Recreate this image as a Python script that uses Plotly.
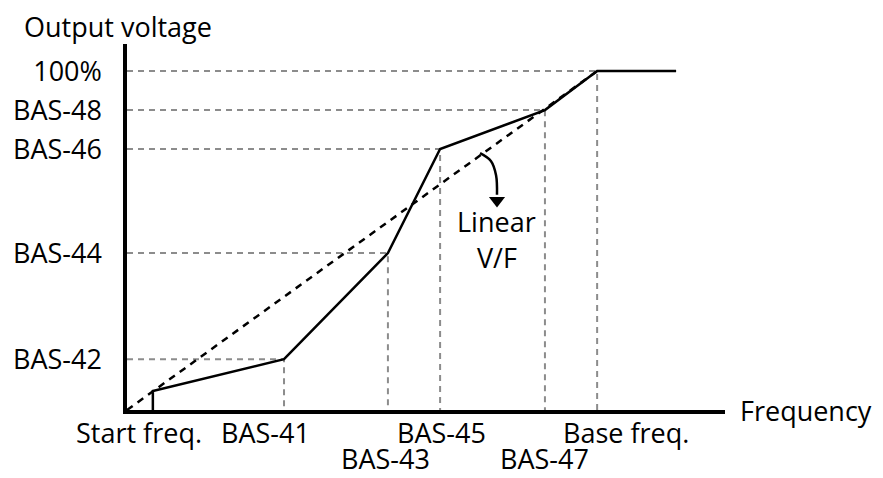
"""V/F pattern diagram: user-defined V/F curve vs linear V/F."""
import plotly.graph_objects as go

# Frequency points (% of base frequency)
freq_labels = ["Start freq.", "BAS-41", "BAS-43", "BAS-45", "BAS-47", "Base freq."]
freq_values = [5.5, 33.4, 55.5, 66.6, 88.9, 100.0]

# Voltage points (% of rated output voltage)
start_voltage = 5.6
volt_labels = ["BAS-42", "BAS-44", "BAS-46", "BAS-48", "100%"]
volt_values = [15.0, 46.3, 77.0, 88.5, 100.0]

max_freq = 116.8

# Linear V/F reference
linear_x = [0, 100]
linear_y = [0, 100]

FONT = "Open Sans"
GUIDE = "#8c8c8c"
SIZE = 27

curve_x = [freq_values[0], freq_values[0]] + freq_values[1:] + [max_freq]
curve_y = [0, start_voltage] + volt_values + [volt_values[-1]]

fig = go.Figure()

# dashed gray guide lines
for fx, vy in zip(freq_values[1:], volt_values):
    fig.add_trace(go.Scatter(
        x=[0, fx, fx], y=[vy, vy, 0], mode="lines",
        line=dict(color=GUIDE, width=2, dash="6px,5px"),
        hoverinfo="skip", showlegend=False,
    ))

fig.add_trace(go.Scatter(
    x=linear_x, y=linear_y, mode="lines",
    line=dict(color="black", width=2.5, dash="7px,6px"),
    showlegend=False,
))
fig.add_trace(go.Scatter(
    x=curve_x, y=curve_y, mode="lines",
    line=dict(color="black", width=2.5),
    showlegend=False,
))

# curved arrow pointing at the "Linear V/F" label
fig.add_trace(go.Scatter(
    x=[75.1, 77.4, 78.5, 78.7], y=[75.8, 73.5, 69.3, 63.5],
    mode="lines", line=dict(color="black", width=2.5, shape="spline"),
    hoverinfo="skip", showlegend=False,
))
fig.add_trace(go.Scatter(
    x=[78.7], y=[61.8], mode="markers",
    marker=dict(symbol="triangle-down", size=14, color="black"),
    hoverinfo="skip", showlegend=False,
))
fig.add_annotation(x=78.7, y=55.5, text="Linear", showarrow=False,
                   font=dict(size=27))
fig.add_annotation(x=78.7, y=45.1, text="V/F", showarrow=False,
                   font=dict(size=27))

# frequency labels, two staggered rows
label_x = [2.6, 29.4, 54.9, 67.0, 88.7, 106.2]
for lab, lx in zip(freq_labels, label_x):
    lower = lab in ("BAS-43", "BAS-47")
    fig.add_annotation(
        x=lx, xref="x", y=0, yref="paper",
        yshift=-48 if lower else -22,
        text=lab, showarrow=False, font=dict(size=SIZE),
        yanchor="middle", borderpad=0,
    )

fig.add_annotation(x=1, xref="paper", y=0, yref="y", text="Frequency",
                   xanchor="left", xshift=13, showarrow=False,
                   font=dict(size=SIZE))
fig.add_annotation(x=0, xref="paper", y=1, yref="paper", text="Output voltage",
                   xanchor="left", yanchor="bottom", xshift=-104, yshift=-2,
                   showarrow=False, font=dict(size=SIZE), borderpad=0)

fig.update_xaxes(
    range=[0, 127.2], showline=True, linecolor="black", linewidth=3.5,
    showgrid=False, zeroline=False, showticklabels=False, ticks="",
    automargin=False,
)
fig.update_yaxes(
    range=[0, 108], showline=True, linecolor="black", linewidth=3.5,
    showgrid=False, zeroline=False, ticks="",
    tickvals=volt_values, ticktext=volt_labels,
    tickfont=dict(size=SIZE), ticklabelstandoff=16, automargin=False,
)
fig.update_layout(
    width=875, height=470,
    margin=dict(l=119, r=158, t=36, b=68),
    plot_bgcolor="white", paper_bgcolor="white",
    font=dict(family=FONT, color="black"),
)

fig.write_html("out.html")
